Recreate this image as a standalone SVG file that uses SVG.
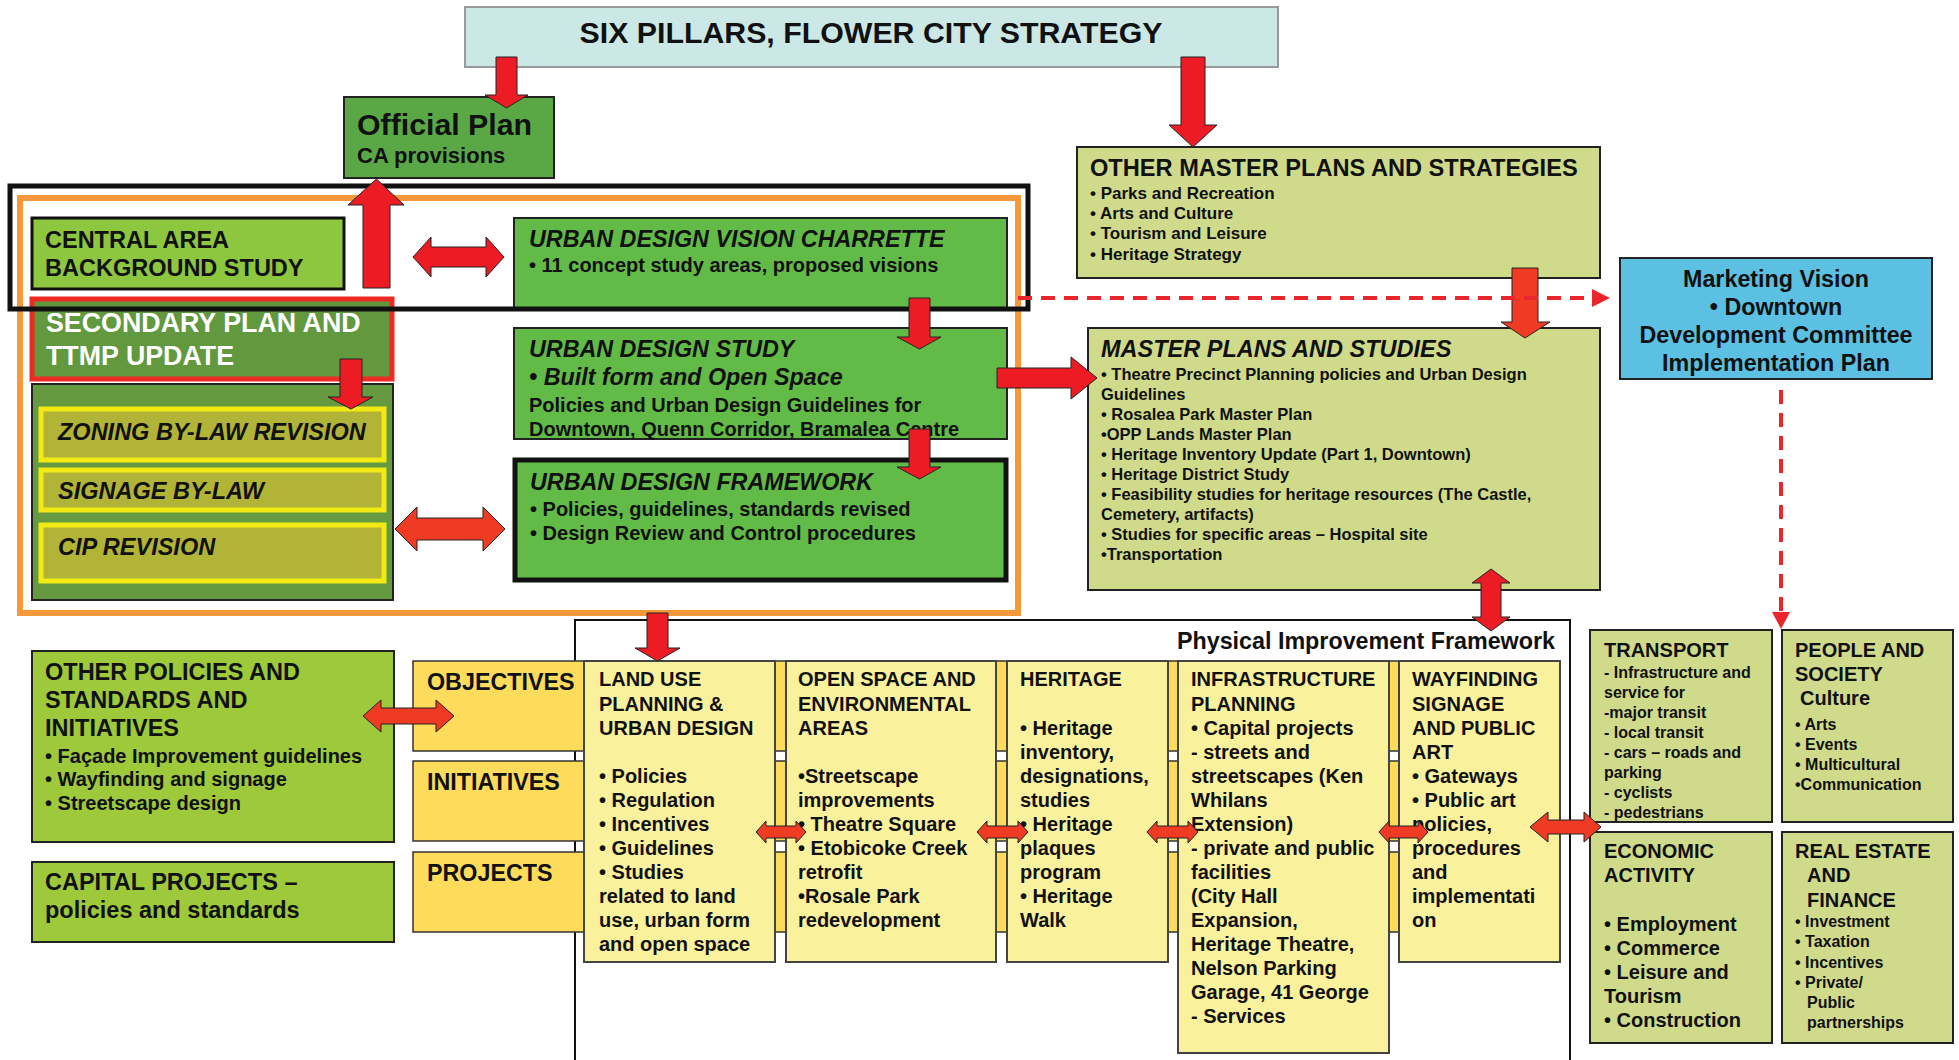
<svg xmlns="http://www.w3.org/2000/svg" width="1959" height="1060" viewBox="0 0 1959 1060">
<style>
text{font-family:"Liberation Sans",Arial,sans-serif;font-weight:bold;fill:#111}
.i{font-style:italic}
.w{fill:#fff}
.s30{font-size:30.3px}.s26{font-size:26.8px}.s24{font-size:23.6px}.s23{font-size:23.3px}.s235{font-size:23.5px}.s22{font-size:22px}.s20{font-size:20px}.s17{font-size:17px}.s16{font-size:16px}.s165{font-size:16.5px}
.box{stroke:#222;stroke-width:2}
.green{fill:#62bb46}
.olive{fill:#cfdb8a}
.col{fill:#faf19c;stroke:#444;stroke-width:2}
.band{fill:#fddc5b;stroke:#333;stroke-width:1.5}
.zb{fill:#b1b436;stroke:#f3ea14;stroke-width:5}
.ar{fill:#ed1c24;stroke:#222;stroke-width:1}
.ao{fill:#ef3b24;stroke:#222;stroke-width:1}
.dash{stroke:#e8262b;stroke-width:4;stroke-dasharray:14 9;fill:none}
</style>

<!-- frames -->
<rect x="20" y="198" width="998" height="415" fill="none" stroke="#f7993a" stroke-width="6"/>
<rect x="575" y="620" width="995" height="470" fill="none" stroke="#111" stroke-width="2"/>

<g id="six-pillars">
<rect x="465" y="7" width="813" height="60" fill="#cbe8e6" stroke="#999" stroke-width="2"/>
<text class="s30" x="871" y="43" text-anchor="middle">SIX PILLARS, FLOWER CITY STRATEGY</text>
</g>

<g id="official-plan">
<rect class="box" x="344" y="97" width="210" height="81" fill="#5aa845"/>
<text class="s30" x="357" y="135">Official Plan</text>
<text class="s22" x="357" y="163">CA provisions</text>
</g>

<g id="central-area">
<rect x="32" y="218" width="312" height="71" fill="#8dc63f" stroke="#111" stroke-width="3"/>
<text class="s235" x="45" y="248">CENTRAL AREA</text>
<text class="s235" x="45" y="276">BACKGROUND STUDY</text>
</g>

<g id="charrette">
<rect class="box green" x="514" y="218" width="493" height="90"/>
<text class="s23 i" x="529" y="247">URBAN DESIGN VISION CHARRETTE</text>
<text class="s20" x="529" y="272">• 11 concept study areas, proposed visions</text>
</g>

<g id="secondary-plan">
<rect x="32" y="299" width="360" height="80" fill="#62993f" stroke="#ee2a24" stroke-width="5"/>
<text class="s26 w" x="46" y="332">SECONDARY PLAN AND</text>
<text class="s26 w" x="46" y="365">TTMP UPDATE</text>
</g>

<g id="bylaw-group">
<rect class="box" x="32" y="384" width="361" height="216" fill="#659a40"/>
<g id="zoning"><rect class="zb" x="41" y="409" width="343" height="51"/>
<text class="s235 i" x="58" y="440">ZONING BY-LAW REVISION</text></g>
<g id="signage"><rect class="zb" x="41" y="470" width="343" height="40"/>
<text class="s235 i" x="58" y="499">SIGNAGE BY-LAW</text></g>
<g id="cip"><rect class="zb" x="41" y="525" width="343" height="56"/>
<text class="s235 i" x="58" y="555">CIP REVISION</text></g>
</g>

<g id="urban-design-study">
<rect class="box green" x="514" y="328" width="493" height="111"/>
<text class="s23 i" x="529" y="357">URBAN DESIGN STUDY</text>
<text class="s23 i" x="529" y="385">• Built form and Open Space</text>
<text class="s20" x="529" y="412">Policies and Urban Design Guidelines for</text>
<text class="s20" x="529" y="436">Downtown, Quenn Corridor, Bramalea Centre</text>
</g>

<g id="urban-design-framework">
<rect class="green" x="515" y="460" width="491" height="120" stroke="#111" stroke-width="5"/>
<text class="s23 i" x="530" y="490">URBAN DESIGN FRAMEWORK</text>
<text class="s20" x="530" y="516">• Policies, guidelines, standards revised</text>
<text class="s20" x="530" y="540">• Design Review and Control procedures</text>
</g>

<rect x="10" y="186" width="1018" height="123" fill="none" stroke="#111" stroke-width="5"/>

<g id="other-master-plans">
<rect class="box olive" x="1077" y="147" width="523" height="131"/>
<text class="s24" x="1090" y="176">OTHER MASTER PLANS AND STRATEGIES</text>
<text class="s17" x="1090" y="199">• Parks and Recreation</text>
<text class="s17" x="1090" y="219">• Arts and Culture</text>
<text class="s17" x="1090" y="239">• Tourism and Leisure</text>
<text class="s17" x="1090" y="260">• Heritage Strategy</text>
</g>

<g id="master-plans-studies">
<rect class="box olive" x="1088" y="328" width="512" height="262"/>
<text class="i s235" x="1101" y="357">MASTER PLANS AND STUDIES</text>
<text class="s165" x="1101" y="380">• Theatre Precinct Planning policies and Urban Design</text>
<text class="s165" x="1101" y="400">Guidelines</text>
<text class="s165" x="1101" y="420">• Rosalea Park Master Plan</text>
<text class="s165" x="1101" y="440">•OPP Lands Master Plan</text>
<text class="s165" x="1101" y="460">• Heritage Inventory Update (Part 1, Downtown)</text>
<text class="s165" x="1101" y="480">• Heritage District Study</text>
<text class="s165" x="1101" y="500">• Feasibility studies for heritage resources (The Castle,</text>
<text class="s165" x="1101" y="520">Cemetery, artifacts)</text>
<text class="s165" x="1101" y="540">• Studies for specific areas – Hospital site</text>
<text class="s165" x="1101" y="560">•Transportation</text>
</g>

<g id="marketing-vision">
<rect class="box" x="1620" y="258" width="312" height="121" fill="#5bc0e2"/>
<text class="s23" x="1776" y="287" text-anchor="middle">Marketing Vision</text>
<text class="s23" x="1776" y="315" text-anchor="middle">• Downtown</text>
<text class="s23" x="1776" y="343" text-anchor="middle">Development Committee</text>
<text class="s23" x="1776" y="371" text-anchor="middle">Implementation Plan</text>
</g>

<g id="other-policies">
<rect class="box" x="32" y="651" width="362" height="191" fill="#9dc93b"/>
<text class="s235" x="45" y="680">OTHER POLICIES AND</text>
<text class="s235" x="45" y="708">STANDARDS AND</text>
<text class="s235" x="45" y="736">INITIATIVES</text>
<text class="s20" x="45" y="763">• Façade Improvement guidelines</text>
<text class="s20" x="45" y="786">• Wayfinding and signage</text>
<text class="s20" x="45" y="810">• Streetscape design</text>
</g>

<g id="capital-projects">
<rect class="box" x="32" y="862" width="362" height="80" fill="#9dc93b"/>
<text class="s235" x="45" y="890">CAPITAL PROJECTS –</text>
<text class="s235" x="45" y="918">policies and standards</text>
</g>

<g id="objectives"><rect class="band" x="413" y="661" width="1147" height="90"/>
<text class="s23" x="427" y="690">OBJECTIVES</text></g>
<g id="initiatives"><rect class="band" x="413" y="761" width="1147" height="80"/>
<text class="s23" x="427" y="790">INITIATIVES</text></g>
<g id="projects"><rect class="band" x="413" y="852" width="1147" height="80"/>
<text class="s23" x="427" y="881">PROJECTS</text></g>

<g id="pif-title">
<text class="s23" x="1555" y="649" text-anchor="end">Physical Improvement Framework</text>
</g>

<g id="land-use">
<rect class="col" x="584" y="661" width="191" height="301"/>
<text class="s20"><tspan x="599" y="686">LAND USE</tspan><tspan x="599" y="711">PLANNING &amp;</tspan><tspan x="599" y="735">URBAN DESIGN</tspan><tspan x="599" y="783">• Policies</tspan><tspan x="599" y="807">• Regulation</tspan><tspan x="599" y="831">• Incentives</tspan><tspan x="599" y="855">• Guidelines</tspan><tspan x="599" y="879">• Studies</tspan><tspan x="599" y="903">related to land</tspan><tspan x="599" y="927">use, urban form</tspan><tspan x="599" y="951">and open space</tspan></text>
</g>

<g id="open-space">
<rect class="col" x="786" y="661" width="210" height="301"/>
<text class="s20"><tspan x="798" y="686">OPEN SPACE AND</tspan><tspan x="798" y="711">ENVIRONMENTAL</tspan><tspan x="798" y="735">AREAS</tspan><tspan x="798" y="783">•Streetscape</tspan><tspan x="798" y="807">improvements</tspan><tspan x="798" y="831">• Theatre Square</tspan><tspan x="798" y="855">• Etobicoke Creek</tspan><tspan x="798" y="879">retrofit</tspan><tspan x="798" y="903">•Rosale Park</tspan><tspan x="798" y="927">redevelopment</tspan></text>
</g>

<g id="heritage">
<rect class="col" x="1007" y="661" width="161" height="301"/>
<text class="s20"><tspan x="1020" y="686">HERITAGE</tspan><tspan x="1020" y="735">• Heritage</tspan><tspan x="1020" y="759">inventory,</tspan><tspan x="1020" y="783">designations,</tspan><tspan x="1020" y="807">studies</tspan><tspan x="1020" y="831">• Heritage</tspan><tspan x="1020" y="855">plaques</tspan><tspan x="1020" y="879">program</tspan><tspan x="1020" y="903">• Heritage</tspan><tspan x="1020" y="927">Walk</tspan></text>
</g>

<g id="infrastructure">
<rect class="col" x="1178" y="661" width="211" height="392"/>
<text class="s20"><tspan x="1191" y="686">INFRASTRUCTURE</tspan><tspan x="1191" y="711">PLANNING</tspan><tspan x="1191" y="735">• Capital projects</tspan><tspan x="1191" y="759">- streets and</tspan><tspan x="1191" y="783">streetscapes (Ken</tspan><tspan x="1191" y="807">Whilans</tspan><tspan x="1191" y="831">Extension)</tspan><tspan x="1191" y="855">- private and public</tspan><tspan x="1191" y="879">facilities</tspan><tspan x="1191" y="903">(City Hall</tspan><tspan x="1191" y="927">Expansion,</tspan><tspan x="1191" y="951">Heritage Theatre,</tspan><tspan x="1191" y="975">Nelson Parking</tspan><tspan x="1191" y="999">Garage, 41 George</tspan><tspan x="1191" y="1023">- Services</tspan></text>
</g>

<g id="wayfinding">
<rect class="col" x="1399" y="661" width="161" height="301"/>
<text class="s20"><tspan x="1412" y="686">WAYFINDING</tspan><tspan x="1412" y="711">SIGNAGE</tspan><tspan x="1412" y="735">AND PUBLIC</tspan><tspan x="1412" y="759">ART</tspan><tspan x="1412" y="783">• Gateways</tspan><tspan x="1412" y="807">• Public art</tspan><tspan x="1412" y="831">policies,</tspan><tspan x="1412" y="855">procedures</tspan><tspan x="1412" y="879">and</tspan><tspan x="1412" y="903">implementati</tspan><tspan x="1412" y="927">on</tspan></text>
</g>

<g id="transport">
<rect class="box olive" x="1590" y="630" width="182" height="192"/>
<text class="s20" x="1604" y="657">TRANSPORT</text>
<text class="s16"><tspan x="1604" y="678">- Infrastructure and</tspan><tspan x="1604" y="698">service for</tspan><tspan x="1604" y="718">-major transit</tspan><tspan x="1604" y="738">- local transit</tspan><tspan x="1604" y="758">- cars – roads and</tspan><tspan x="1604" y="778">parking</tspan><tspan x="1604" y="798">- cyclists</tspan><tspan x="1604" y="818">- pedestrians</tspan></text>
</g>

<g id="people-society">
<rect class="box olive" x="1782" y="630" width="171" height="192"/>
<text class="s20"><tspan x="1795" y="657">PEOPLE AND</tspan><tspan x="1795" y="681">SOCIETY</tspan><tspan x="1800" y="705">Culture</tspan></text>
<text class="s16"><tspan x="1795" y="730">•  Arts</tspan><tspan x="1795" y="750">• Events</tspan><tspan x="1795" y="770">• Multicultural</tspan><tspan x="1795" y="790">•Communication</tspan></text>
</g>

<g id="economic-activity">
<rect class="box olive" x="1590" y="832" width="182" height="211"/>
<text class="s20"><tspan x="1604" y="858">ECONOMIC</tspan><tspan x="1604" y="882">ACTIVITY</tspan><tspan x="1604" y="931">• Employment</tspan><tspan x="1604" y="955">• Commerce</tspan><tspan x="1604" y="979">• Leisure and</tspan><tspan x="1604" y="1003">Tourism</tspan><tspan x="1604" y="1027">• Construction</tspan></text>
</g>

<g id="real-estate">
<rect class="box olive" x="1782" y="832" width="171" height="211"/>
<text class="s20"><tspan x="1795" y="858">REAL ESTATE</tspan><tspan x="1807" y="882">AND</tspan><tspan x="1807" y="907">FINANCE</tspan></text>
<text class="s16"><tspan x="1795" y="927">•  Investment</tspan><tspan x="1795" y="947">•  Taxation</tspan><tspan x="1795" y="968">•  Incentives</tspan><tspan x="1795" y="988">•  Private/</tspan><tspan x="1807" y="1008">Public</tspan><tspan x="1807" y="1028">partnerships</tspan></text>
</g>

<g id="connectors">
<polygon class="ar" points="496,57 517,57 517,95 528,95 506.5,108 485,95 496,95"/>
<polygon class="ar" points="1181,57 1205,57 1205,125 1217,125 1193,147 1169,125 1181,125"/>
<polygon class="ar" points="363,288 390,288 390,205 404,205 376.5,179 348,205 363,205"/>
<polygon class="ar" points="909,298 930,298 930,337 941,337 919.5,349 897,337 909,337"/>
<polygon class="ar" points="909,429 930,429 930,467 941,467 919.5,479 897,467 909,467"/>
<polygon class="ar" points="340,359 362,359 362,397 373,397 351,409 328,397 340,397"/>
<polygon class="ar" points="647,613 668,613 668,648 680,648 657.5,661 635,648 647,648"/>
<polygon class="ao" points="1512,268 1538,268 1538,322 1550,322 1525,338 1501,322 1512,322"/>
<polygon class="ar" points="997,368 1071,368 1071,357 1097,378 1071,399 1071,388 997,388"/>
<polygon class="ar" points="413,257 431,237 431,247 486,247 486,237 504,257 486,277 486,267 431,267 431,277"/>
<polygon class="ao" points="395,529 417,507 417,518 483,518 483,507 505,529 483,551 483,540 417,540 417,551"/>
<polygon class="ao" points="363,716 381,700 381,708 436,708 436,700 454,716 436,732 436,724 381,724 381,732"/>
<polygon class="ao" points="756,832 766,821 766,826 796,826 796,821 806,832 796,843 796,838 766,838 766,843"/>
<polygon class="ao" points="977,832 987,821 987,826 1018,826 1018,821 1028,832 1018,843 1018,838 987,838 987,843"/>
<polygon class="ao" points="1147,832 1157,821 1157,826 1188,826 1188,821 1198,832 1188,843 1188,838 1157,838 1157,843"/>
<polygon class="ao" points="1379,832 1389,821 1389,826 1418,826 1418,821 1428,832 1418,843 1418,838 1389,838 1389,843"/>
<polygon class="ao" points="1530,827 1548,812 1548,820 1584,820 1584,812 1601,827 1584,842 1584,834 1548,834 1548,842"/>
<polygon class="ar" points="1491,569 1510,583 1501,583 1501,617 1510,617 1491,631 1472,617 1481,617 1481,583 1472,583"/>
<line class="dash" x1="1018" y1="298" x2="1592" y2="298"/>
<polygon fill="#e8262b" points="1592,289 1610,298 1592,307"/>
<line class="dash" x1="1781" y1="390" x2="1781" y2="612"/>
<polygon fill="#e8262b" points="1772,612 1790,612 1781,629"/>
</g>
</svg>
